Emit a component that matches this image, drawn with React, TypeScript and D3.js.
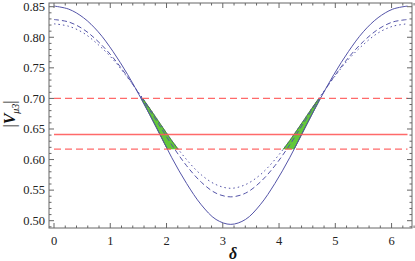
import React from 'react';
import * as d3 from 'd3';

// delta samples (0 .. 2pi, 15 degree steps)
const delta = [0, 0.262, 0.524, 0.785, 1.047, 1.309, 1.571, 1.833, 2.094, 2.356, 2.618, 2.880, 3.142,
  3.403, 3.665, 3.927, 4.189, 4.451, 4.712, 4.974, 5.236, 5.498, 5.760, 6.021, 6.283];

// |V_mu3|
const solidV = [0.851, 0.846, 0.832, 0.809, 0.777, 0.739, 0.696, 0.650, 0.603, 0.561, 0.526, 0.502, 0.494,
  0.502, 0.526, 0.561, 0.603, 0.650, 0.696, 0.739, 0.777, 0.809, 0.832, 0.846, 0.851];
const dashedV = [0.829, 0.825, 0.813, 0.793, 0.767, 0.735, 0.699, 0.662, 0.624, 0.590, 0.563, 0.545, 0.539,
  0.545, 0.563, 0.590, 0.624, 0.662, 0.699, 0.735, 0.767, 0.793, 0.813, 0.825, 0.829];
const dottedV = [0.822, 0.818, 0.807, 0.788, 0.764, 0.734, 0.701, 0.666, 0.631, 0.600, 0.575, 0.559, 0.553,
  0.559, 0.575, 0.600, 0.631, 0.666, 0.701, 0.734, 0.764, 0.788, 0.807, 0.818, 0.822];

// horizontal bounds
const upperBound = 0.70;
const centralValue = 0.641;
const lowerBound = 0.617;

const xTicks = [0, 1, 2, 3, 4, 5, 6];
const yTicks = [0.5, 0.55, 0.6, 0.65, 0.7, 0.75, 0.8, 0.85];

const W = 415, H = 261;
const frame = { left: 49, right: 412, top: 3, bottom: 228 };

export default function App() {
  const x = d3.scaleLinear().domain([0, 2 * Math.PI]).range([54, 407.5]);
  const y = d3.scaleLinear().domain([0.5, 0.85]).range([220.7, 6.7]);

  const pts = (vals: number[]) => delta.map((d, i) => [d, vals[i]] as [number, number]);
  const line = d3.line<[number, number]>().x(d => x(d[0])).y(d => y(d[1])).curve(d3.curveCatmullRom);
  const area = d3.area<number>()
    .x((d, i) => x(delta[i]))
    .y0((d, i) => y(solidV[i]))
    .y1((d, i) => y(dottedV[i]))
    .curve(d3.curveCatmullRom);

  const xMinor = d3.range(0, 6.41, 0.2).filter(v => Math.abs(v - Math.round(v)) > 1e-6);
  const yMinor = d3.range(0.49, 0.856, 0.01).filter(v => Math.abs(v * 20 - Math.round(v * 20)) > 1e-6);

  const axisColor = '#666';
  const blue = '#5454a8';
  const red = '#ff5a5a';
  const font = '"Liberation Serif", "DejaVu Serif", serif';

  return (
    <svg width={W} height={H} style={{ position: 'absolute', left: 0, top: 0, background: '#fff' }}>
      <defs>
        <clipPath id="band">
          <rect x={x(0)} y={y(upperBound)} width={x(2 * Math.PI) - x(0)} height={y(lowerBound) - y(upperBound)} />
        </clipPath>
      </defs>

      {/* green allowed regions between curves inside the band */}
      <path d={area(solidV) || ''} clipPath="url(#band)" fill="#62c83a" stroke="#2f6a1f" strokeWidth={0.8} />

      <path d={line(pts(solidV)) || ''} fill="none" stroke={blue} strokeWidth={1} />
      <path d={line(pts(dashedV)) || ''} fill="none" stroke={blue} strokeWidth={1} strokeDasharray="5,3" />
      <path d={line(pts(dottedV)) || ''} fill="none" stroke={blue} strokeWidth={1} strokeDasharray="1.5,3" />

      <line x1={x(0)} x2={x(2 * Math.PI)} y1={y(upperBound)} y2={y(upperBound)} stroke={red} strokeWidth={1.3} strokeDasharray="7,4" opacity={0.9} />
      <line x1={x(0)} x2={x(2 * Math.PI)} y1={y(centralValue)} y2={y(centralValue)} stroke={red} strokeWidth={1.5} opacity={0.9} />
      <line x1={x(0)} x2={x(2 * Math.PI)} y1={y(lowerBound)} y2={y(lowerBound)} stroke={red} strokeWidth={1.3} strokeDasharray="7,4" opacity={0.9} />

      {/* frame */}
      <rect x={frame.left} y={frame.top} width={frame.right - frame.left} height={frame.bottom - frame.top}
        fill="none" stroke={axisColor} strokeWidth={1} />

      {xTicks.map(t => (
        <g key={'xt' + t}>
          <line x1={x(t)} x2={x(t)} y1={frame.bottom} y2={frame.bottom - 5} stroke={axisColor} />
          <line x1={x(t)} x2={x(t)} y1={frame.top} y2={frame.top + 5} stroke={axisColor} />
          <text x={x(t)} y={245} textAnchor="middle" fontFamily={font} fontSize={12.5} fill="#222">{t}</text>
        </g>
      ))}
      {xMinor.map(t => (
        <g key={'xm' + t}>
          <line x1={x(t)} x2={x(t)} y1={frame.bottom} y2={frame.bottom - 2.5} stroke={axisColor} />
          <line x1={x(t)} x2={x(t)} y1={frame.top} y2={frame.top + 2.5} stroke={axisColor} />
        </g>
      ))}
      {yTicks.map(t => (
        <g key={'yt' + t}>
          <line x1={frame.left} x2={frame.left + 5} y1={y(t)} y2={y(t)} stroke={axisColor} />
          <line x1={frame.right} x2={frame.right - 5} y1={y(t)} y2={y(t)} stroke={axisColor} />
          <text x={45} y={y(t) + 4.3} textAnchor="end" fontFamily={font} fontSize={12.5} fill="#222">{t.toFixed(2)}</text>
        </g>
      ))}
      {yMinor.map(t => (
        <g key={'ym' + t.toFixed(2)}>
          <line x1={frame.left} x2={frame.left + 2.5} y1={y(t)} y2={y(t)} stroke={axisColor} />
          <line x1={frame.right} x2={frame.right - 2.5} y1={y(t)} y2={y(t)} stroke={axisColor} />
        </g>
      ))}

      {/* axis labels */}
      <text x={233} y={259} textAnchor="middle" fontFamily={font} fontSize={16} fontWeight="bold" fontStyle="italic" fill="#111">δ</text>
      <text transform="translate(15,114) rotate(-90)" textAnchor="middle" fontFamily={font} fontSize={16} fill="#111">
        <tspan>|</tspan>
        <tspan fontStyle="italic" fontWeight="bold">V</tspan>
        <tspan fontStyle="italic" fontSize={10} dy={4}>μ3</tspan>
        <tspan dy={-4}>|</tspan>
      </text>
    </svg>
  );
}
